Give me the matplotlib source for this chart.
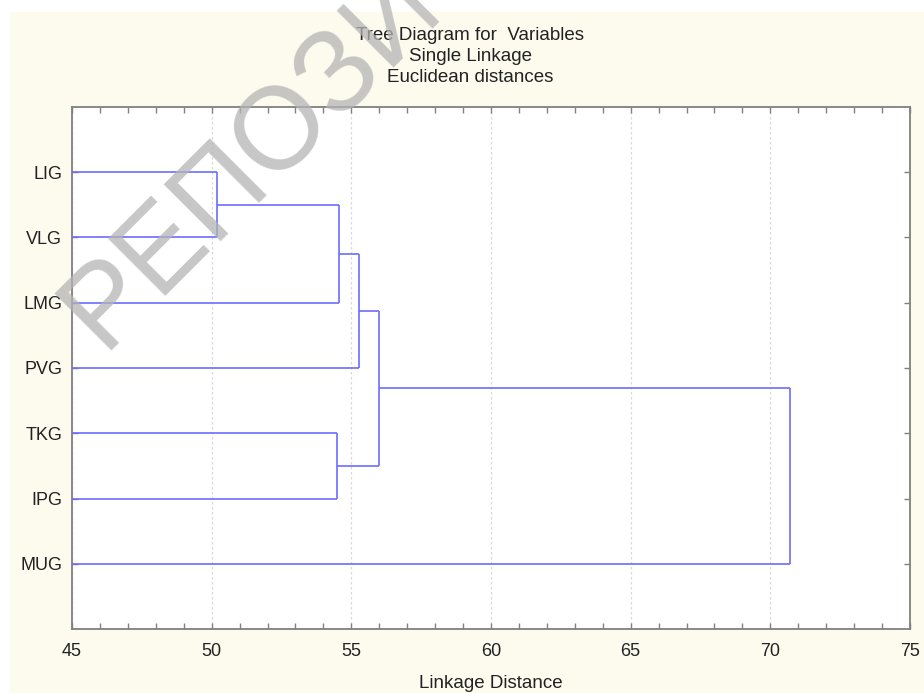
import matplotlib.pyplot as plt
from matplotlib.patches import Rectangle
from matplotlib.ticker import MultipleLocator

# leaves, top to bottom
labels = ['LIG', 'VLG', 'LMG', 'PVG', 'TKG', 'IPG', 'MUG']

# merges: node ids 0-6 are leaves, each merge creates node 7, 8, ...
merge_a = [0, 4, 7, 9, 10, 11]
merge_b = [1, 5, 2, 3, 8, 6]
merge_dist = [50.2, 54.48, 54.55, 55.27, 56.0, 70.7]

x_ticks = [45, 50, 55, 60, 65, 70, 75]

line_color = '#6c6cff'
frame_color = '#808080'
font = 'Liberation Sans'

fig = plt.figure(figsize=(9.24, 6.93), dpi=100)
fig.patch.set_facecolor('white')
fig.patches.append(Rectangle((10 / 924, 0), 1, 1 - 12 / 693,
                             transform=fig.transFigure,
                             facecolor='#fdfaee', edgecolor='none',
                             zorder=-10))

ax = fig.add_axes([72 / 924, 1 - 629 / 693, 838 / 924, 522 / 693])
ax.set_facecolor('white')

# node positions
node_x = {i: x_ticks[0] for i in range(len(labels))}
node_y = {i: i + 1 for i in range(len(labels))}

for k, (a, b, d) in enumerate(zip(merge_a, merge_b, merge_dist)):
    new_id = len(labels) + k
    for child in (a, b):
        ax.plot([node_x[child], d], [node_y[child], node_y[child]],
                color=line_color, lw=1.2, solid_capstyle='butt', zorder=3)
    ax.plot([d, d], [node_y[a], node_y[b]],
            color=line_color, lw=1.2, solid_capstyle='butt', zorder=3)
    node_x[new_id] = d
    node_y[new_id] = (node_y[a] + node_y[b]) / 2

ax.set_xlim(x_ticks[0], x_ticks[-1])
ax.set_ylim(len(labels) + 1, 0)

ax.set_xticks(x_ticks)
ax.set_xticklabels([str(t) for t in x_ticks], fontsize=13, family=font,
                   color='#222222')
ax.xaxis.set_minor_locator(MultipleLocator(1))
ax.set_yticks(range(1, len(labels) + 1))
ax.set_yticklabels(labels, fontsize=13, family=font, color='#222222')

ax.tick_params(axis='x', which='both', direction='in', top=True,
               color=frame_color, length=4, width=1, pad=10)
ax.tick_params(axis='y', which='both', direction='in', right=True,
               color=frame_color, length=4, width=1, pad=7)

ax.grid(axis='x', which='major', color='#d8d8d8', lw=0.9,
        linestyle=(0, (2, 2)), zorder=1)
ax.set_axisbelow(True)

for s in ax.spines.values():
    s.set_color(frame_color)
    s.set_linewidth(1.3)

fig.text(470 / 924, 1 - 56.5 / 693,
         'Tree Diagram for  Variables\nSingle Linkage\nEuclidean distances',
         ha='center', va='center', ma='center', fontsize=13.5, family=font,
         color='#222222', linespacing=1.32)
fig.text(491 / 924, 1 - 683 / 693, 'Linkage Distance', ha='center',
         va='center', fontsize=13.5, family=font, color='#222222')

# repository watermark over the picture
fig.text(102 / 924, 1 - 350 / 693, 'РЕПОЗИТОРИЙ', rotation=45,
         rotation_mode='anchor', ha='left', va='baseline', fontsize=84,
         family=font, color='#b4b4b4', alpha=0.75, zorder=20)

fig.savefig('out.png', dpi=100, facecolor=fig.get_facecolor())
